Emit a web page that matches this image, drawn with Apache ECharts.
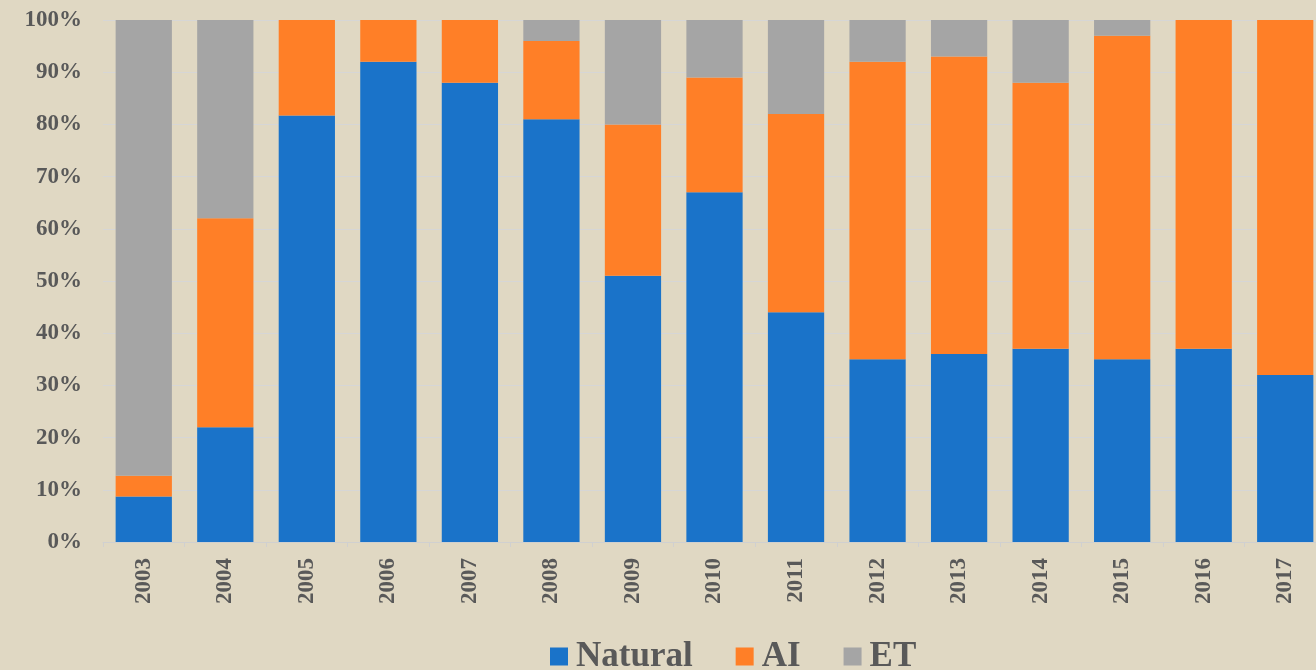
<!DOCTYPE html>
<html><head><meta charset="utf-8">
<script src="https://cdn.jsdelivr.net/npm/echarts@6/dist/echarts.min.js"></script>
<style>html,body{margin:0;padding:0;background:#e0d8c3;overflow:hidden;width:1316px;height:670px;}#c{width:1326px;height:670px;}</style>
</head><body><div id="c"></div>
<script>
const years = ['2003','2004','2005','2006','2007','2008','2009','2010','2011','2012','2013','2014','2015','2016','2017'];
const natural = [8.7, 22, 81.7, 92, 88, 81, 51, 67, 44, 35, 36, 37, 35, 37, 32];
const ai      = [4, 40, 18.3, 8, 12, 15, 29, 22, 38, 57, 57, 51, 62, 63, 68];
const et      = [87.3, 38, 0, 0, 0, 4, 20, 11, 18, 8, 7, 12, 3, 0, 0];
const seriesNames = ['Natural','AI','ET'];
const colors = ['#1a73c9','#ff7f27','#a5a5a5'];
const font = '"Liberation Serif","Times New Roman",serif';
const chart = echarts.init(document.getElementById('c'), null, {renderer:'canvas'});
const mk = (name, data, color) => ({
  name, type:'bar', stack:'s', data, barCategoryGap:'31%',
  itemStyle:{color}, emphasis:{disabled:true}
});
chart.setOption({
  backgroundColor:'#e0d8c3',
  animation:false,
  color: colors,
  grid:{left:103, width:1223, top:20, height:522, containLabel:false},
  legend:{
    data: seriesNames, left:550, top:639, padding:0, itemWidth:18, itemHeight:18, itemGap:43,
    icon:'rect',
    textStyle:{fontFamily:font, fontWeight:'bold', fontSize:35, color:'#595959', padding:[0,0,0,3]}
  },
  xAxis:{
    type:'category', data: years,
    axisLine:{lineStyle:{color:'#d0d0d0'}},
    axisTick:{show:true, length:5, lineStyle:{color:'#d0d0d0'}},
    axisLabel:{rotate:90, margin:16, fontFamily:font, fontWeight:'bold', fontSize:23, color:'#595959'}
  },
  yAxis:{
    type:'value', min:0, max:100, interval:10,
    axisLine:{show:false}, axisTick:{show:false},
    splitLine:{lineStyle:{color:'#d6d6d6', width:1}},
    axisLabel:{formatter:'{value}%', margin:21, fontFamily:font, fontWeight:'bold', fontSize:23, color:'#595959'}
  },
  series:[mk(seriesNames[0], natural, colors[0]), mk(seriesNames[1], ai, colors[1]), mk(seriesNames[2], et, colors[2])]
});
</script></body></html>
